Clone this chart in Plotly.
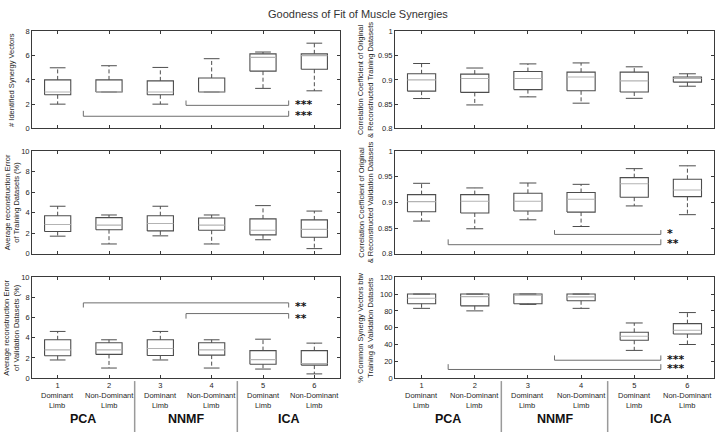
import plotly.graph_objects as go

# ---------------- data ----------------
categories = [1, 2, 3, 4, 5, 6]
tick_numbers = ["1", "2", "3", "4", "5", "6"]
limb_labels = ["Dominant<br>Limb", "Non-Dominant<br>Limb", "Dominant<br>Limb",
               "Non-Dominant<br>Limb", "Dominant<br>Limb", "Non-Dominant<br>Limb"]
group_labels = ["PCA", "NNMF", "ICA"]
group_centers = [1.5, 3.5, 5.5]
group_separators = [2.5, 4.5]

# Panel 1: # identified synergy vectors
syn_lo = [2.0, 3.0, 2.0, 3.0, 3.3, 3.1]
syn_q1 = [2.77, 3.0, 2.77, 3.0, 4.72, 4.88]
syn_med = [3.0, 3.0, 3.0, 3.0, 5.86, 6.0]
syn_q3 = [4.0, 4.0, 3.92, 4.16, 6.15, 6.15]
syn_hi = [5.0, 5.17, 5.03, 5.75, 6.3, 7.03]
syn_brackets = [(3.5, 5.5, 1.9, 2.3), (1.5, 5.5, 1.0, 1.45)]
syn_stars = ["***", "***"]
syn_star_y = [2.1, 1.25]

# Panel 2: correlation coefficient, training
cctr_lo = [0.8616, 0.8484, 0.865, 0.852, 0.862, 0.887]
cctr_q1 = [0.8768, 0.8742, 0.880, 0.8775, 0.875, 0.8954]
cctr_med = [0.900, 0.903, 0.903, 0.906, 0.898, 0.903]
cctr_q3 = [0.9126, 0.912, 0.9172, 0.916, 0.916, 0.906]
cctr_hi = [0.9338, 0.9245, 0.933, 0.935, 0.927, 0.9126]

# Panel 3: reconstruction error, training
errtr_lo = [1.71, 0.95, 1.74, 0.95, 1.36, 0.5]
errtr_q1 = [2.16, 2.34, 2.22, 2.28, 1.84, 1.61]
errtr_med = [2.85, 2.78, 2.94, 2.78, 2.28, 2.37]
errtr_q3 = [3.7, 3.51, 3.7, 3.48, 3.39, 3.29]
errtr_hi = [4.62, 3.77, 4.62, 3.77, 4.68, 4.15]

# Panel 4: correlation coefficient, validation
ccval_lo = [0.8636, 0.8486, 0.866, 0.853, 0.893, 0.876]
ccval_q1 = [0.8818, 0.8793, 0.883, 0.881, 0.910, 0.911]
ccval_med = [0.9013, 0.902, 0.902, 0.906, 0.936, 0.924]
ccval_q3 = [0.915, 0.915, 0.9176, 0.919, 0.948, 0.945]
ccval_hi = [0.937, 0.928, 0.9376, 0.935, 0.9655, 0.971]
ccval_brackets = [(3.5, 5.5, 0.8376, 0.846), (1.5, 5.5, 0.8176, 0.828)]
ccval_stars = ["*", "**"]
ccval_star_y = [0.843, 0.8245]

# Panel 5: reconstruction error, validation
errval_lo = [1.8, 1.0, 1.8, 1.0, 0.9, 0.42]
errval_q1 = [2.22, 2.35, 2.25, 2.28, 1.38, 1.29]
errval_med = [2.8, 2.8, 2.93, 2.8, 1.83, 1.45]
errval_q3 = [3.8, 3.5, 3.8, 3.5, 2.73, 2.73]
errval_hi = [4.63, 3.8, 4.63, 3.8, 3.86, 3.47]
errval_brackets = [(1.5, 5.5, 7.46, 7.0), (3.5, 5.5, 6.4, 5.9)]
errval_stars = ["**", "**"]
errval_star_y = [7.27, 6.14]

# Panel 6: % common synergy vectors
common_lo = [83, 80, 87.7, 83, 33, 40]
common_q1 = [88.5, 86, 88.5, 92, 45, 52.5]
common_med = [95, 97, 98.5, 96.7, 49.8, 56.9]
common_q3 = [100, 100, 100, 100, 54.5, 64.8]
common_hi = [100, 100, 100, 100, 65.6, 78]
common_brackets = [(3.5, 5.5, 21.3, 27), (1.5, 5.5, 10.3, 16.6)]
common_stars = ["***", "***"]
common_star_y = [24.9, 13.8]

# ---------------- styling ----------------
W, H = 716, 437
FONT = "Liberation Sans, Arial, Helvetica, sans-serif"
STARFONT = "DejaVu Sans, Liberation Sans, sans-serif"
AX = "#3a3a3a"
BOXC = "#4d4d4d"
MEDC = "#b3b3b3"
BRC = "#6e6e6e"

xdom = [[32 / W, 340 / W], [395 / W, 714 / W]]
ydom = [[1 - 127 / H, 1 - 28 / H], [1 - 255 / H, 1 - 150 / H], [1 - 382 / H, 1 - 279 / H]]

panels = [
    dict(lo=syn_lo, q1=syn_q1, med=syn_med, q3=syn_q3, hi=syn_hi, rng=[0, 8], dtick=2,
         title="# Identified Synergy Vectors", row=0, col=0,
         br=syn_brackets, st=syn_stars, sty=syn_star_y, bw=0.255),
    dict(lo=cctr_lo, q1=cctr_q1, med=cctr_med, q3=cctr_q3, hi=cctr_hi, rng=[0.8, 1], dtick=0.05,
         title="Correlation Coefficient of Original<br>& Reconstructed Training Datasets", row=0, col=1,
         br=[], st=[], sty=[], bw=0.265),
    dict(lo=errtr_lo, q1=errtr_q1, med=errtr_med, q3=errtr_q3, hi=errtr_hi, rng=[0, 10], dtick=2,
         title="Average reconstruction Error<br>of Training Datasets (%)", row=1, col=0,
         br=[], st=[], sty=[], bw=0.255),
    dict(lo=ccval_lo, q1=ccval_q1, med=ccval_med, q3=ccval_q3, hi=ccval_hi, rng=[0.8, 1], dtick=0.05,
         title="Correlation Coefficient of Original<br>& Reconstructed Validation Datasets", row=1, col=1,
         br=ccval_brackets, st=ccval_stars, sty=ccval_star_y, bw=0.265),
    dict(lo=errval_lo, q1=errval_q1, med=errval_med, q3=errval_q3, hi=errval_hi, rng=[0, 10], dtick=2,
         title="Average reconstruction Error<br>of Validation Datasets (%)", row=2, col=0,
         br=errval_brackets, st=errval_stars, sty=errval_star_y, bw=0.255),
    dict(lo=common_lo, q1=common_q1, med=common_med, q3=common_q3, hi=common_hi, rng=[0, 120], dtick=20,
         title="% Common Synergy Vectors btw<br>Training & Validation Datasets", row=2, col=1,
         br=common_brackets, st=common_stars, sty=common_star_y, bw=0.265),
]

fig = go.Figure()
annotations = []
shapes = []

for i, p in enumerate(panels, start=1):
    xa = "x" if i == 1 else f"x{i}"
    ya = "y" if i == 1 else f"y{i}"
    bw = p["bw"]
    cw = bw * 0.6

    wx, wy, cx, cy, bx, by, mx, my = [], [], [], [], [], [], [], []
    for c, lo, q1, md, q3, hi in zip(categories, p["lo"], p["q1"], p["med"], p["q3"], p["hi"]):
        wx += [c, c, None, c, c, None]
        wy += [q3, hi, None, q1, lo, None]
        cx += [c - cw, c + cw, None, c - cw, c + cw, None]
        cy += [hi, hi, None, lo, lo, None]
        bx += [c - bw, c + bw, c + bw, c - bw, c - bw, None]
        by += [q1, q1, q3, q3, q1, None]
        mx += [c - bw, c + bw, None]
        my += [md, md, None]

    common = dict(xaxis=xa, yaxis=ya, mode="lines", showlegend=False, hoverinfo="skip")
    fig.add_trace(go.Scatter(x=wx, y=wy, line=dict(color=BOXC, width=1, dash="4px,2.5px"), **common))
    fig.add_trace(go.Scatter(x=cx, y=cy, line=dict(color=BOXC, width=1), **common))
    fig.add_trace(go.Scatter(x=bx, y=by, line=dict(color=BOXC, width=1.1), **common))
    fig.add_trace(go.Scatter(x=mx, y=my, line=dict(color=MEDC, width=1.1), **common))

    # significance brackets
    if p["br"]:
        rx, ry = [], []
        for (x0, x1, yl, yt) in p["br"]:
            rx += [x0, x0, x1, x1, None]
            ry += [yt, yl, yl, yt, None]
        fig.add_trace(go.Scatter(x=rx, y=ry, line=dict(color=BRC, width=1), **common))
        for s, sy in zip(p["st"], p["sty"]):
            annotations.append(dict(x=5.6, y=sy, xref=xa, yref=ya, text=f"<b>{s}</b>", showarrow=False,
                                    xanchor="left", yanchor="middle", yshift=-2, height=9,
                                    borderpad=0, valign="middle",
                                    font=dict(family=STARFONT, size=11, color="#111111")))

    bottom = p["row"] == 2
    xd = xdom[p["col"]]
    yd = ydom[p["row"]]
    axis_common = dict(showline=True, linecolor=AX, linewidth=0.9, mirror="ticks", ticks="inside",
                       ticklen=3, tickcolor=AX, tickwidth=0.8, showgrid=False, zeroline=False,
                       tickfont=dict(family=FONT, size=7.5, color="#262626"))
    fig.update_layout(**{
        ("xaxis" if i == 1 else f"xaxis{i}"): dict(
            domain=xd, anchor=ya, range=[0.5, 6.5], tickmode="array", tickvals=categories,
            ticktext=tick_numbers, showticklabels=bottom, **axis_common),
        ("yaxis" if i == 1 else f"yaxis{i}"): dict(
            domain=yd, anchor=xa, range=p["rng"], dtick=p["dtick"], tick0=p["rng"][0], **axis_common),
    })

    # y-axis title
    tx = (12 if p["col"] == 0 else 366) / W
    annotations.append(dict(x=tx, y=(yd[0] + yd[1]) / 2, xref="paper", yref="paper", text=p["title"],
                            textangle=-90, showarrow=False, xanchor="center", yanchor="middle",
                            font=dict(family=FONT, size=7.5, color="#262626")))

    if bottom:
        for c, lab in zip(categories, limb_labels):
            annotations.append(dict(x=c, y=1 - 404.5 / H, xref=xa, yref="paper", text=lab,
                                    showarrow=False, xanchor="center", yanchor="middle",
                                    font=dict(family=FONT, size=7.5, color="#262626")))
        for gc, gl in zip(group_centers, group_labels):
            annotations.append(dict(x=gc, y=1 - 424 / H, xref=xa, yref="paper", text=f"<b>{gl}</b>",
                                    showarrow=False, xanchor="center", yanchor="middle",
                                    font=dict(family=FONT, size=12.5, color="#111111")))
        for sx in group_separators:
            shapes.append(dict(type="line", xref=xa, yref="paper", x0=sx, x1=sx, y0=0, y1=1 - 385 / H,
                               line=dict(color="#9a9a9a", width=1.5)))

annotations.append(dict(x=0.5, y=1 - 10 / H, xref="paper", yref="paper",
                        text="Goodness of Fit of Muscle Synergies", showarrow=False,
                        xanchor="center", yanchor="middle",
                        font=dict(family=FONT, size=11, color="#333333")))

fig.update_layout(width=W, height=H, margin=dict(l=0, r=0, t=0, b=0),
                  paper_bgcolor="white", plot_bgcolor="white",
                  annotations=annotations, shapes=shapes, showlegend=False)

fig.write_html("out.html", config={"displayModeBar": False},
               post_script="document.body.style.margin='0px';document.body.style.overflow='hidden';")
